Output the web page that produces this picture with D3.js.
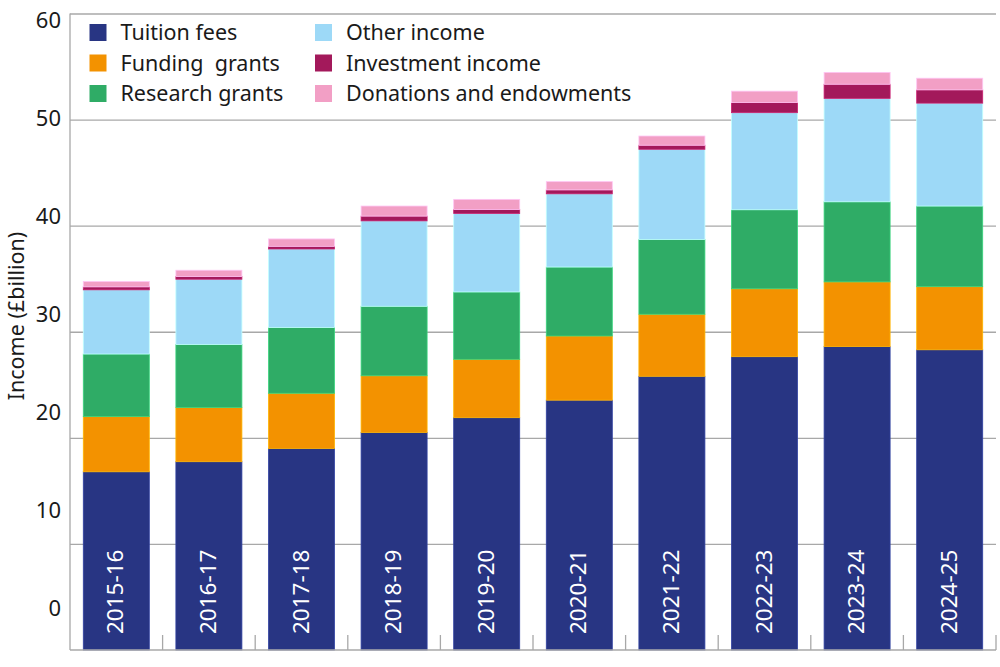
<!DOCTYPE html>
<html>
<head>
<meta charset="utf-8">
<script src="https://cdn.jsdelivr.net/npm/d3@7"></script>
<style>
  body { margin: 0; background: #fff; }
  text { font-family: "Noto Sans", "Open Sans", sans-serif; fill: #1a1a1a; }
</style>
</head>
<body>
<script>
// Academic years on the x axis
var years = ["2015-16", "2016-17", "2017-18", "2018-19", "2019-20",
             "2020-21", "2021-22", "2022-23", "2023-24", "2024-25"];

// Income by source, £billion
var tuitionFees   = [16.8, 17.75, 19.0, 20.5, 21.9, 23.55, 25.8, 27.65, 28.6, 28.3];
var fundingGrants = [5.2, 5.1, 5.2, 5.35, 5.5, 6.05, 5.85, 6.4, 6.1, 5.95];
var researchGrants = [5.9, 5.95, 6.2, 6.55, 6.35, 6.5, 7.05, 7.45, 7.55, 7.6];
var otherIncome   = [6.05, 6.15, 7.4, 8.05, 7.4, 6.9, 8.5, 9.15, 9.75, 9.7];
var investmentIncome = [0.28, 0.25, 0.25, 0.45, 0.38, 0.37, 0.38, 0.95, 1.33, 1.25];
var donations     = [0.5, 0.6, 0.7, 0.95, 0.95, 0.78, 0.87, 1.08, 1.12, 1.1];

var seriesNames = ["Tuition fees", "Funding  grants", "Research grants",
                   "Other income", "Investment income", "Donations and endowments"];
var seriesColors = ["#283583", "#f39200", "#2fac66", "#9dd9f7", "#a3195b", "#f29fc5"];

var yTicks = [0, 10, 20, 30, 40, 50, 60];

// SVG area
var svgWidth = 1000;
var svgHeight = 667;

var margin = { top: 13.5, right: 4, bottom: 17, left: 70 };
var chartWidth = svgWidth - margin.left - margin.right;
var chartHeight = svgHeight - margin.top - margin.bottom;

var svg = d3.select("body")
  .append("svg")
  .attr("width", svgWidth)
  .attr("height", svgHeight);

var chartGroup = svg.append("g")
  .attr("transform", `translate(${margin.left}, ${margin.top})`);

// build rows for the stack
var keys = ["tuition", "funding", "research", "other", "investment", "donations"];
var cols = [tuitionFees, fundingGrants, researchGrants, otherIncome, investmentIncome, donations];
var rows = years.map((y, i) => {
  var r = { year: y };
  keys.forEach((k, j) => { r[k] = cols[j][i]; });
  return r;
});
var stacked = d3.stack().keys(keys)(rows);

// scales
var xBandScale = d3.scaleBand()
  .domain(years)
  .range([0, chartWidth])
  .paddingInner(0.287)
  .paddingOuter(0.1435);

var yLinearScale = d3.scaleLinear()
  .domain([0, 60])
  .range([chartHeight, 0]);

// the printed tick labels sit on their own spacing in the original
var yLabelScale = d3.scaleLinear()
  .domain([0, 60])
  .range([608 - margin.top, 20 - margin.top]);

// gridlines
chartGroup.append("g")
  .attr("class", "grid")
  .call(d3.axisLeft(yLinearScale).tickValues(yTicks.slice(1)).tickSize(-chartWidth).tickFormat(""))
  .call(g => g.select(".domain").remove())
  .call(g => g.selectAll("line").attr("stroke", "#a8a8a8").attr("stroke-width", 1.3));

// bars
var layers = chartGroup.selectAll(".layer")
  .data(stacked)
  .enter()
  .append("g")
  .attr("class", "layer")
  .attr("fill", (d, i) => seriesColors[i])
  .attr("stroke", (d, i) => d3.color(seriesColors[i]).brighter(0.6))
  .attr("stroke-width", 0.8);

layers.selectAll("rect")
  .data(d => d)
  .enter()
  .append("rect")
  .attr("x", d => xBandScale(d.data.year))
  .attr("width", xBandScale.bandwidth())
  .attr("y", d => yLinearScale(d[1]))
  .attr("height", d => yLinearScale(d[0]) - yLinearScale(d[1]));

// year labels inside the bars
chartGroup.selectAll(".year-label")
  .data(years)
  .enter()
  .append("text")
  .attr("class", "year-label")
  .attr("transform", d => `translate(${xBandScale(d) + xBandScale.bandwidth() / 2 + 7}, ${chartHeight - 16}) rotate(-90)`)
  .attr("text-anchor", "start")
  .style("fill", "#fff")
  .style("font-size", "22.5px")
  .text(d => d);

// y axis line
chartGroup.append("line")
  .attr("x1", 0).attr("x2", 0)
  .attr("y1", 0).attr("y2", chartHeight)
  .attr("stroke", "#a8a8a8")
  .attr("stroke-width", 1.3);

// bottom axis with ticks between categories
chartGroup.append("line")
  .attr("x1", 0).attr("x2", chartWidth)
  .attr("y1", chartHeight).attr("y2", chartHeight)
  .attr("stroke", "#a8a8a8")
  .attr("stroke-width", 1.3);

var boundaries = years.map(y => xBandScale(y) - xBandScale.step() * xBandScale.paddingInner() / 2).slice(1);
boundaries.push(chartWidth);
chartGroup.selectAll(".xtick")
  .data(boundaries)
  .enter()
  .append("line")
  .attr("class", "xtick")
  .attr("x1", d => d).attr("x2", d => d)
  .attr("y1", chartHeight - 15).attr("y2", chartHeight)
  .attr("stroke", "#a8a8a8")
  .attr("stroke-width", 1.3);

// y tick labels
chartGroup.append("g")
  .attr("class", "ylabels")
  .call(d3.axisLeft(yLabelScale).tickValues(yTicks).tickSize(0).tickPadding(9))
  .call(g => g.select(".domain").remove())
  .call(g => g.selectAll("text")
    .style("font-size", "22px")
    .style("font-family", "'Noto Sans', sans-serif")
    .attr("fill", "#1a1a1a"));

// y axis title
svg.append("text")
  .attr("transform", "translate(24, 316) rotate(-90)")
  .attr("text-anchor", "middle")
  .style("font-size", "21.5px")
  .text("Income (£billion)");

// legend
var legend = svg.append("g").attr("class", "legend");
var legendItems = legend.selectAll(".item")
  .data(seriesNames)
  .enter()
  .append("g")
  .attr("class", "item")
  .attr("transform", (d, i) => `translate(${i < 3 ? 89.5 : 315}, ${24 + (i % 3) * 30.5})`);

legendItems.append("rect")
  .attr("width", 17)
  .attr("height", 17)
  .attr("fill", (d, i) => seriesColors[i]);

legendItems.append("text")
  .attr("x", 31)
  .attr("y", 8.5)
  .attr("dy", "0.35em")
  .style("font-size", "21.5px")
  .style("white-space", "pre")
  .text(d => d);
</script>
</body>
</html>
